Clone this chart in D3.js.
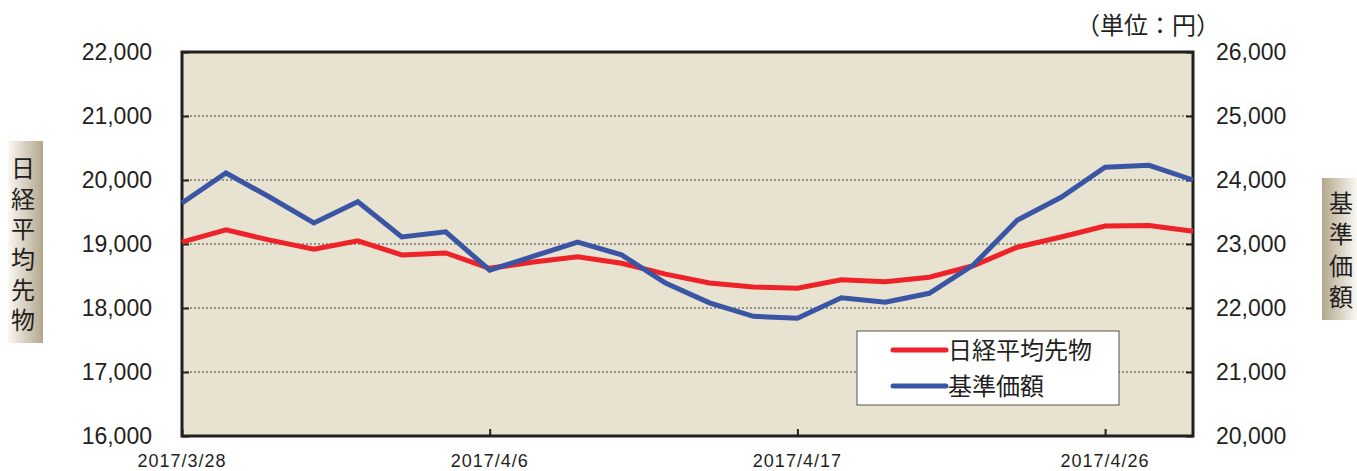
<!DOCTYPE html>
<html>
<head>
<meta charset="utf-8">
<script src="https://cdn.jsdelivr.net/npm/d3@7"></script>
<style>
  body { margin: 0; background: #fff; }
  text { fill: #231f20; }
</style>
</head>
<body>
<div id="chart"></div>
<script>
/* 日経平均先物 vs 基準価額 (2017/3/28 - 2017/4/28) */

const dates = ["2017/3/28","2017/3/29","2017/3/30","2017/3/31","2017/4/3","2017/4/4","2017/4/5","2017/4/6",
  "2017/4/7","2017/4/10","2017/4/11","2017/4/12","2017/4/13","2017/4/14","2017/4/17","2017/4/18",
  "2017/4/19","2017/4/20","2017/4/21","2017/4/24","2017/4/25","2017/4/26","2017/4/27","2017/4/28"];

const nikkei = [19030, 19220, 19060, 18920, 19050, 18830, 18860, 18620,
  18720, 18800, 18700, 18530, 18390, 18330, 18310, 18440,
  18410, 18480, 18660, 18950, 19110, 19280, 19290, 19200];

const nav = [23640, 24110, 23730, 23330, 23660, 23110, 23190, 22590,
  22810, 23030, 22830, 22390, 22080, 21870, 21840, 22160,
  22090, 22230, 22670, 23370, 23730, 24200, 24230, 24000];

const xTicks = ["2017/3/28", "2017/4/6", "2017/4/17", "2017/4/26"];
const leftTicks = [16000, 17000, 18000, 19000, 20000, 21000, 22000];
const rightTicks = [20000, 21000, 22000, 23000, 24000, 25000, 26000];
const seriesNames = ["日経平均先物", "基準価額"];
const colors = ["#ee2229", "#3a55a4"];

const width = 1357, height = 471,
    margin = ({ top: 52, right: 164, bottom: 35, left: 182 });

const svg = d3.select("#chart")
    .append("svg")
    .attr("width", width)
    .attr("height", height)
    .attr("viewBox", [0, 0, width, height]);

const numFont = "'Liberation Sans', Arial, sans-serif";
const jpFont = "'Noto Sans CJK JP', sans-serif";

let x = d3.scalePoint()
    .domain(dates)
    .range([margin.left, width - margin.right]);

let yL = d3.scaleLinear()
    .domain([16000, 22000])
    .range([height - margin.bottom, margin.top]);

let yR = d3.scaleLinear()
    .domain([20000, 26000])
    .range([height - margin.bottom, margin.top]);

/* plot background */
svg.append("rect")
    .attr("x", margin.left)
    .attr("y", margin.top)
    .attr("width", width - margin.right - margin.left)
    .attr("height", height - margin.bottom - margin.top)
    .attr("fill", "#e8e2d1");

/* dotted grid */
svg.append("g")
  .selectAll("line")
  .data(leftTicks.slice(1, -1))
  .join("line")
    .attr("x1", margin.left)
    .attr("x2", width - margin.right)
    .attr("y1", d => yL(d))
    .attr("y2", d => yL(d))
    .attr("stroke", "#444")
    .attr("stroke-width", 1)
    .attr("stroke-dasharray", "2,2");

/* axes */
let fmt = d3.format(",");

let gl = svg.append("g")
    .attr("transform", `translate(${margin.left},0)`)
    .call(d3.axisRight(yL).tickValues(leftTicks).tickSize(7).tickFormat(""));

let gr = svg.append("g")
    .attr("transform", `translate(${width - margin.right},0)`)
    .call(d3.axisLeft(yR).tickValues(rightTicks).tickSize(7).tickFormat(""));

let gb = svg.append("g")
    .attr("transform", `translate(0,${height - margin.bottom})`)
    .call(d3.axisTop(x).tickValues(xTicks).tickSize(7).tickFormat(""));

for (let g of [gl, gr, gb]) {
  g.select(".domain").remove();
  g.selectAll(".tick line").attr("stroke", "#231f20").attr("stroke-width", 2);
}

/* tick labels */
svg.append("g")
  .selectAll("text")
  .data(leftTicks)
  .join("text")
    .attr("x", margin.left - 30)
    .attr("y", d => yL(d))
    .attr("dy", "0.36em")
    .attr("text-anchor", "end")
    .attr("font-family", numFont)
    .attr("font-size", 23)
    .text(d => fmt(d));

svg.append("g")
  .selectAll("text")
  .data(rightTicks)
  .join("text")
    .attr("x", width - margin.right + 23)
    .attr("y", d => yR(d))
    .attr("dy", "0.36em")
    .attr("text-anchor", "start")
    .attr("font-family", numFont)
    .attr("font-size", 23)
    .text(d => fmt(d));

svg.append("g")
  .selectAll("text")
  .data(xTicks)
  .join("text")
    .attr("x", d => x(d))
    .attr("y", 467)
    .attr("text-anchor", "middle")
    .attr("font-family", numFont)
    .attr("font-size", 18)
    .attr("letter-spacing", 1)
    .text(d => d);

/* frame */
svg.append("rect")
    .attr("x", margin.left)
    .attr("y", margin.top)
    .attr("width", width - margin.right - margin.left)
    .attr("height", height - margin.bottom - margin.top)
    .attr("fill", "none")
    .attr("stroke", "#231f20")
    .attr("stroke-width", 3);

/* lines */
let lineL = d3.line().x((d, i) => x(dates[i])).y(d => yL(d));
let lineR = d3.line().x((d, i) => x(dates[i])).y(d => yR(d));

svg.append("path")
    .datum(nikkei)
    .attr("d", lineL)
    .attr("fill", "none")
    .attr("stroke", colors[0])
    .attr("stroke-width", 5);

svg.append("path")
    .datum(nav)
    .attr("d", lineR)
    .attr("fill", "none")
    .attr("stroke", colors[1])
    .attr("stroke-width", 5);

/* legend */
let lg = svg.append("g").attr("transform", "translate(857,331)");
lg.append("rect")
    .attr("width", 262)
    .attr("height", 74)
    .attr("fill", "#fff")
    .attr("stroke", "#555")
    .attr("stroke-width", 1);

lg.selectAll("line")
  .data(seriesNames)
  .join("line")
    .attr("x1", 36).attr("x2", 89)
    .attr("y1", (d, i) => 19 + i * 36)
    .attr("y2", (d, i) => 19 + i * 36)
    .attr("stroke", (d, i) => colors[i])
    .attr("stroke-width", 5)
    .attr("stroke-linecap", "round");

lg.selectAll("text")
  .data(seriesNames)
  .join("text")
    .attr("x", 91)
    .attr("y", (d, i) => 19 + i * 36)
    .attr("dy", "0.36em")
    .attr("font-family", jpFont)
    .attr("font-size", 24)
    .text(d => d);

/* unit label */
svg.append("text")
    .attr("x", 1220)
    .attr("y", 25)
    .attr("dy", "0.36em")
    .attr("text-anchor", "end")
    .attr("font-family", jpFont)
    .attr("font-size", 24)
    .text("（単位：円）");

/* vertical axis titles */
const defs = svg.append("defs");
let gradL = defs.append("linearGradient").attr("id", "gl");
gradL.append("stop").attr("offset", "0%").attr("stop-color", "#faf8f3");
gradL.append("stop").attr("offset", "100%").attr("stop-color", "#b3a68c");
let gradR = defs.append("linearGradient").attr("id", "gr");
gradR.append("stop").attr("offset", "0%").attr("stop-color", "#b3a68c");
gradR.append("stop").attr("offset", "100%").attr("stop-color", "#faf8f3");

svg.append("rect")
    .attr("x", 8).attr("y", 141).attr("width", 35).attr("height", 202)
    .attr("fill", "url(#gl)");
svg.append("rect")
    .attr("x", 1322).attr("y", 178).attr("width", 35).attr("height", 142)
    .attr("fill", "url(#gr)");

svg.append("text")
    .attr("x", 23)
    .attr("y", 156)
    .attr("font-family", jpFont)
    .attr("font-size", 24)
    .attr("letter-spacing", 6.4)
    .style("writing-mode", "vertical-rl")
    .text(seriesNames[0]);

svg.append("text")
    .attr("x", 1341)
    .attr("y", 191)
    .attr("font-family", jpFont)
    .attr("font-size", 24)
    .attr("letter-spacing", 7.3)
    .style("writing-mode", "vertical-rl")
    .text(seriesNames[1]);
</script>
</body>
</html>
